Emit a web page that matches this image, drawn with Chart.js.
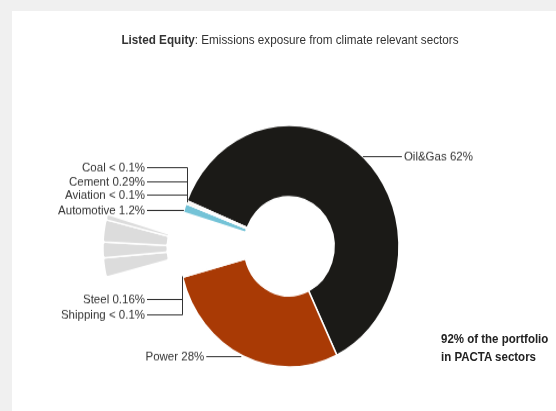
<!DOCTYPE html>
<html>
<head>
<meta charset="utf-8">
<script src="https://cdn.jsdelivr.net/npm/chart.js@4.4.1/dist/chart.umd.min.js"></script>
<style>
  html, body { margin: 0; padding: 0; }
  body { width: 556px; height: 411px; background: #f0f0f0; overflow: hidden;
         font-family: "Liberation Sans", Arial, sans-serif; position: relative; }
  .panel { position: absolute; left: 12px; top: 11px; width: 544px; height: 400px; background: #fff; }
  .panel canvas { position: absolute; left: 0; top: 0; }
  .title { position: absolute; left: -12px; width: 580px; top: 22px; text-align: center;
           font-size: 11.7px; line-height: 14px; color: #333; transform: scaleY(1.1); }
  .note { position: absolute; left: 429px; top: 319px; font-size: 11.5px; line-height: 16px;
          font-weight: bold; color: #222; transform: scaleY(1.1); transform-origin: left top; }
</style>
</head>
<body>
<div class="panel">
  <canvas id="ring" width="544" height="364" style="width:544px;height:400px"></canvas>
  <canvas id="other" width="544" height="364" style="width:544px;height:400px"></canvas>
  <div class="title"><b>Listed Equity</b>: Emissions exposure from climate relevant sectors</div>
  <div class="note">92% of the portfolio<br>in PACTA sectors</div>
</div>
<script>
// PACTA sectors, clockwise from the Oil&Gas slice
const sectors = ['Oil&Gas', 'Power', 'Steel', 'Shipping', 'Automotive', 'Aviation', 'Cement', 'Coal'];
const shares = [61.7, 28.0, 0.16, 0.05, 1.2, 0.05, 0.29, 0.05];
const shareLabels = ['62%', '28%', '0.16%', '< 0.1%', '1.2%', '< 0.1%', '0.29%', '< 0.1%'];
// rest of the portfolio (grey, pulled out to the left)
const otherParts = ['Other 1', 'Other 2', 'Other 3', 'Other 4'];
const otherShares = [2.6, 2.1, 3.0, 0.75];

const sectorColors = {
  'Oil&Gas': '#1b1a17', 'Power': '#a93a05', 'Steel': '#7d8a96', 'Shipping': '#2f5f8a',
  'Automotive': '#74c3d7', 'Aviation': '#b7c9d6', 'Cement': '#eae0c2', 'Coal': '#3d3d3d'
};
const otherColor = '#dcdcdc';
const none = 'rgba(0,0,0,0)';

// where each label sits (canvas px; the canvas is stretched 1.1x vertically)
const labelLayout = {
  'Oil&Gas':    { kind: 'right', y: 132 },
  'Power':      { kind: 'short', y: 314 },
  'Automotive': { kind: 'left',  y: 181 },
  'Coal':       { kind: 'elbow', y: 142, group: 'top' },
  'Cement':     { kind: 'elbow', y: 155, group: 'top' },
  'Aviation':   { kind: 'elbow', y: 167, group: 'top' },
  'Steel':      { kind: 'elbow', y: 262, group: 'bottom' },
  'Shipping':   { kind: 'elbow', y: 276, group: 'bottom' }
};
const textRight = 133;

const ring = [...sectors.slice(0, 4), ...otherParts, ...sectors.slice(4)];
const ringValues = [...shares.slice(0, 4), ...otherShares, ...shares.slice(4)];
const isOther = n => otherParts.includes(n);

const labelPlugin = {
  id: 'sectorLabels',
  afterDraw(chart) {
    const ctx = chart.ctx;
    const arcs = chart.getDatasetMeta(0).data;
    ctx.save();
    ctx.strokeStyle = '#333';
    ctx.fillStyle = '#333';
    ctx.lineWidth = 1;
    ctx.font = '11.5px "Liberation Sans", Arial, sans-serif';
    ctx.textBaseline = 'middle';
    const groups = {};
    ring.forEach((name, i) => {
      const lay = labelLayout[name];
      if (!lay) return;
      const p = arcs[i].getProps(['x', 'y', 'startAngle', 'endAngle', 'outerRadius'], true);
      const mid = (p.startAngle + p.endAngle) / 2;
      const ax = p.x + Math.cos(mid) * p.outerRadius;
      const ay = p.y + Math.sin(mid) * p.outerRadius;
      const ly = Math.round(lay.y) + 0.5;
      const span = Math.sqrt(Math.max(p.outerRadius ** 2 - (ly - p.y) ** 2, 0));
      const text = name + ' ' + shareLabels[sectors.indexOf(name)];
      ctx.beginPath();
      if (lay.kind === 'right') {
        const ex = p.x + span;
        ctx.moveTo(ex, ly); ctx.lineTo(ex + 39, ly); ctx.stroke();
        ctx.textAlign = 'left';
        ctx.fillText(text, ex + 41, ly);
      } else if (lay.kind === 'short') {
        const ex = p.x - span - 3;
        ctx.moveTo(ex - 35, ly); ctx.lineTo(ex, ly); ctx.stroke();
        ctx.textAlign = 'right';
        ctx.fillText(text, ex - 37, ly);
      } else if (lay.kind === 'left') {
        const ex = p.x - span;
        ctx.moveTo(textRight + 2, ly); ctx.lineTo(ex, ly); ctx.stroke();
        ctx.textAlign = 'right';
        ctx.fillText(text, textRight, ly);
      } else {
        const g = groups[lay.group] || (groups[lay.group] = { xs: [], ys: [], ly: [], texts: [] });
        g.xs.push(ax); g.ys.push(ay); g.ly.push(ly); g.texts.push(text);
      }
    });
    Object.values(groups).forEach(g => {
      const gx = Math.round(g.xs.reduce((a, b) => a + b, 0) / g.xs.length) + 0.5;
      const gy = g.ys.reduce((a, b) => a + b, 0) / g.ys.length;
      const far = g.ly.reduce((a, b) => Math.abs(b - gy) > Math.abs(a - gy) ? b : a);
      ctx.beginPath();
      ctx.moveTo(gx, gy); ctx.lineTo(gx, far);
      g.ly.forEach(ly => { ctx.moveTo(textRight + 2, ly); ctx.lineTo(gx, ly); });
      ctx.stroke();
      ctx.textAlign = 'right';
      g.texts.forEach((t, k) => ctx.fillText(t, textRight, g.ly[k]));
    });
    ctx.restore();
  }
};

const common = {
  responsive: false,
  animation: false,
  events: [],
  rotation: 292,
  cutout: '41%',
  radius: 110,
  plugins: { legend: { display: false }, tooltip: { enabled: false } }
};

new Chart(document.getElementById('ring'), {
  type: 'doughnut',
  data: {
    labels: ring,
    datasets: [{
      data: ringValues,
      backgroundColor: ring.map(n => sectorColors[n] || none),
      borderColor: ring.map(n => isOther(n) ? none : '#fff'),
      borderWidth: 1.5
    }]
  },
  options: { ...common, layout: { padding: { left: 10, right: 0, top: 64, bottom: 0 } } },
  plugins: [labelPlugin]
});

// same ring again, only the grey part shown, centred further left
new Chart(document.getElementById('other'), {
  type: 'doughnut',
  data: {
    labels: ring,
    datasets: [{
      data: ringValues,
      backgroundColor: ring.map(n => isOther(n) ? otherColor : none),
      borderColor: ring.map(n => isOther(n) ? '#fff' : none),
      borderWidth: 1.5,
      borderRadius: 2
    }]
  },
  options: { ...common, radius: 109, layout: { padding: { left: 0, right: 144, top: 67, bottom: 0 } } }
});
</script>
</body>
</html>
